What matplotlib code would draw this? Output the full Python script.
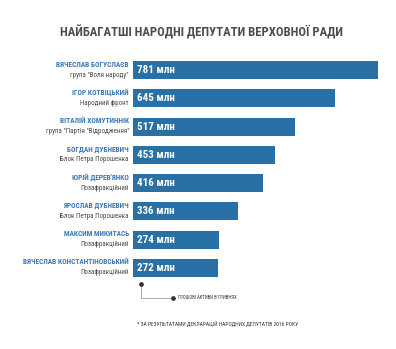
import matplotlib
matplotlib.use("Agg")
import matplotlib.pyplot as plt
from matplotlib import font_manager

# Дані: депутати, фракції та грошові активи (млн грн)
names = ["ВЯЧЕСЛАВ БОГУСЛАЄВ", "ІГОР КОТВІЦЬКИЙ", "ВІТАЛІЙ ХОМУТИННІК",
         "БОГДАН ДУБНЕВИЧ", "ЮРІЙ ДЕРЕВ'ЯНКО", "ЯРОСЛАВ ДУБНЕВИЧ",
         "МАКСИМ МИКИТАСЬ", "ВЯЧЕСЛАВ КОНСТАНТІНОВСЬКИЙ"]
parties = ['група "Воля народу"', "Народний фронт", 'група "Партія "Відродження"',
           "Блок Петра Порошенка", "Позафракційний", "Блок Петра Порошенка",
           "Позафракційний", "Позафракційний"]
assets = [781, 645, 517, 453, 416, 336, 274, 272]

# narrowest installed family with Cyrillic
installed = {f.name for f in font_manager.fontManager.ttflist}
cands = ["Roboto Condensed", "Open Sans Condensed", "Noto Sans Condensed",
         "Liberation Sans Narrow", "DejaVu Sans Condensed", "Noto Sans ExtraCondensed"]
narrow = [c for c in cands if c in installed]
FONT = narrow[:1] + ["DejaVu Sans"]

BAR = "#2870a5"
NAME_C = "#3b78b4"
GREY = "#4d4d4d"

W, H = 396, 349
fig = plt.figure(figsize=(W / 100, H / 100), dpi=100)
fig.patch.set_facecolor("white")

# axes placed in pixel units: zero of the scale at x=133, rows from y=56 to 282
left, top, bottom = 133, 56, 282
ax = fig.add_axes([left / W, 1 - bottom / H, (W - left) / W, (bottom - top) / H])
ax.set_xlim(0, (W - left) / 0.3137)
ax.set_ylim(len(names) - 0.5, -0.5)
ax.axis("off")

ypos = list(range(len(names)))
ax.barh(ypos, assets, height=0.64, color=BAR, edgecolor="none")

for i, (n, p, v) in enumerate(zip(names, parties, assets)):
    ax.annotate(f"{v} млн", xy=(0, i), xytext=(4, 0), textcoords="offset pixels",
                ha="left", va="center", color="white", fontsize=8.0,
                fontweight="bold", family=FONT, fontstretch="condensed")
    ax.annotate(n, xy=(0, i), xytext=(-4, 5.5), textcoords="offset pixels",
                ha="right", va="center", color=NAME_C, fontsize=5.35,
                fontweight="bold", family=FONT, fontstretch="condensed")
    ax.annotate(p, xy=(0, i), xytext=(-4, -5), textcoords="offset pixels",
                ha="right", va="center", color=GREY, fontsize=5.0,
                family=FONT, fontstretch="condensed")

fig.text(202 / W, 1 - 32 / H, "НАЙБАГАТШІ НАРОДНІ ДЕПУТАТИ ВЕРХОВНОЇ РАДИ",
         ha="center", va="center", fontsize=9.1, fontweight="bold",
         color=GREY, family=FONT, fontstretch="condensed")

# legend marker: dot under the first bar, elbow line to the caption
lx = [141 / W, 141 / W, 173 / W]
ly = [1 - 284 / H, 1 - 297.5 / H, 1 - 297.5 / H]
fig.add_artist(plt.Line2D(lx, ly, color="#9a9a9a", lw=0.6))
fig.add_artist(plt.Line2D([lx[0], lx[2]], [ly[0], ly[2]], ls="none",
                          marker="o", ms=2.4, color="#333333"))
fig.text(178 / W, 1 - 297.5 / H, "ГРОШОВІ АКТИВИ В ГРИВНЯХ", ha="left", va="center",
         fontsize=3.4, color="#333333", family=FONT, fontstretch="condensed")
fig.text(137 / W, 1 - 323 / H, "* ЗА РЕЗУЛЬТАТАМИ ДЕКЛАРАЦІЙ НАРОДНИХ ДЕПУТАТІВ 2016 РОКУ",
         ha="left", va="center", fontsize=4.0, color="#333333", family=FONT,
         fontstretch="condensed")

fig.savefig("out.png", dpi=100, facecolor="white")
